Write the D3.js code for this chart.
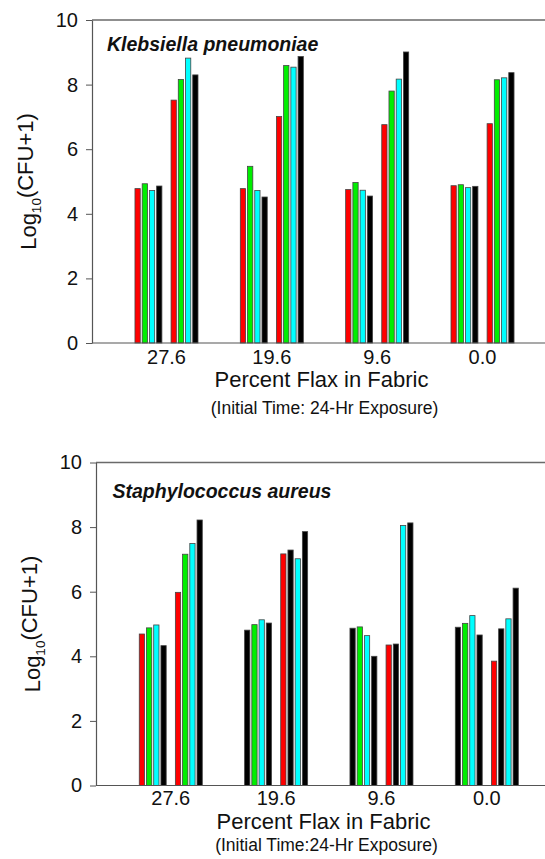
<!DOCTYPE html>
<html>
<head>
<meta charset="utf-8">
<script src="https://cdn.jsdelivr.net/npm/d3@7/dist/d3.min.js"></script>
<style>
  html, body { margin: 0; padding: 0; background: #fff; }
  svg { display: block; font-family: "Liberation Sans", Arial, sans-serif; }
</style>
</head>
<body>
<svg id="chart" width="545" height="859"></svg>
<script>
// ---- data ----
const categories = ["27.6", "19.6", "9.6", "0.0"];
const yTicks = [0, 2, 4, 6, 8, 10];

// Klebsiella pneumoniae: 8 bars per flax level (two clusters of four)
const klebValues = [
  [4.78, 4.93, 4.72, 4.86, 7.52, 8.16, 8.82, 8.30],
  [4.78, 5.47, 4.72, 4.52, 7.01, 8.59, 8.54, 8.87],
  [4.75, 4.97, 4.73, 4.55, 6.76, 7.80, 8.17, 9.01],
  [4.87, 4.90, 4.81, 4.85, 6.79, 8.15, 8.21, 8.37]
];
const klebColorKeys = [
  ["r", "g", "c", "k", "r", "g", "c", "k"],
  ["r", "g", "c", "k", "r", "g", "c", "k"],
  ["r", "g", "c", "k", "r", "g", "c", "k"],
  ["r", "g", "c", "k", "r", "g", "c", "k"]
];

// Staphylococcus aureus
const staphValues = [
  [4.69, 4.88, 4.97, 4.33, 5.98, 7.16, 7.49, 8.22],
  [4.81, 4.98, 5.13, 5.03, 7.17, 7.29, 7.02, 7.86],
  [4.87, 4.91, 4.64, 4.00, 4.35, 4.38, 8.05, 8.13],
  [4.90, 5.02, 5.26, 4.66, 3.85, 4.85, 5.16, 6.11]
];
const staphColorKeys = [
  ["r", "g", "c", "k", "r", "g", "c", "k"],
  ["k", "g", "c", "k", "r", "k", "c", "k"],
  ["k", "g", "c", "k", "r", "k", "c", "k"],
  ["k", "g", "c", "k", "r", "k", "c", "k"]
];

const titles = ["Klebsiella pneumoniae", "Staphylococcus aureus"];
const xTitle = "Percent Flax in Fabric";
const subTitles = ["(Initial Time: 24-Hr Exposure)", "(Initial Time:24-Hr Exposure)"];

// ---- styles ----
const palette = { r: "#ff0000", g: "#00ee00", c: "#00ffff", k: "#000000" };

const panels = [
  { values: klebValues, colors: klebColorKeys, title: titles[0], sub: subTitles[0],
    left: 92, top: 20, bottom: 343, gStart: 113.9, gEnd: 535.1,
    titleX: 107, titleY: 51, tickLabelY: 364, xTitleY: 387, subY: 414, yLabelX: 36 },
  { values: staphValues, colors: staphColorKeys, title: titles[1], sub: subTitles[1],
    left: 96, top: 462.5, bottom: 785.5, gStart: 118.2, gEnd: 539.4,
    titleX: 112.5, titleY: 498, tickLabelY: 805, xTitleY: 828.5, subY: 851, yLabelX: 40 }
];

const svg = d3.select("#chart");
const rightEdge = 548;

panels.forEach(p => {
  const g = svg.append("g");
  const y = d3.scaleLinear().domain([0, 10]).range([p.bottom, p.top]);
  const x = d3.scaleBand().domain(categories).range([p.gStart, p.gEnd])
    .paddingInner(0.4017).paddingOuter(0.2);
  const slots = d3.range(9);
  const xi = d3.scaleBand().domain(slots).range([0, x.bandwidth()]).paddingInner(0.27).paddingOuter(0);
  const slotOf = j => (j < 4 ? j : j + 1);

  // frame top line
  g.append("line").attr("x1", p.left).attr("x2", rightEdge)
    .attr("y1", p.top).attr("y2", p.top)
    .attr("stroke", "#6a6a6a").attr("stroke-width", 1.5);

  // bars
  categories.forEach((cat, gi) => {
    const vals = p.values[gi];
    g.selectAll(null).data(vals).enter().append("rect")
      .attr("x", (d, j) => x(cat) + xi(slotOf(j)))
      .attr("width", xi.bandwidth())
      .attr("y", d => y(d))
      .attr("height", d => y(0) - y(d))
      .attr("fill", (d, j) => palette[p.colors[gi][j]])
      .attr("stroke", "#444")
      .attr("stroke-width", 0.8);
  });

  // y axis
  const yAxis = d3.axisLeft(y).tickValues(yTicks).tickFormat(d3.format("d"))
    .tickSize(6).tickPadding(8).tickSizeOuter(0);
  const ya = g.append("g").attr("transform", `translate(${p.left},0)`).call(yAxis);
  ya.select(".domain").attr("stroke", "#555").attr("stroke-width", 1.2);
  ya.selectAll(".tick line").attr("stroke", "#555").attr("stroke-width", 1);
  ya.selectAll(".tick text").attr("font-size", 20).attr("fill", "#111")
    .attr("font-family", "'Liberation Sans', Arial, sans-serif");

  // x axis
  const xAxis = d3.axisBottom(x).tickSize(0).tickPadding(0);
  const xa = g.append("g").attr("transform", `translate(0,${p.bottom})`).call(xAxis);
  xa.select(".domain").remove();
  xa.selectAll(".tick text").attr("font-size", 20).attr("fill", "#111")
    .attr("dy", null).attr("y", p.tickLabelY - p.bottom)
    .attr("font-family", "'Liberation Sans', Arial, sans-serif");
  g.append("line").attr("x1", p.left).attr("x2", rightEdge)
    .attr("y1", p.bottom).attr("y2", p.bottom)
    .attr("stroke", "#555").attr("stroke-width", 1.2);

  // panel title
  g.append("text").attr("x", p.titleX).attr("y", p.titleY)
    .attr("font-size", 19.5).attr("font-weight", "bold").attr("font-style", "italic")
    .attr("fill", "#111").text(p.title);

  // x title + subtitle
  const cx = (p.left + 545) / 2 + 3;
  g.append("text").attr("x", cx).attr("y", p.xTitleY).attr("text-anchor", "middle")
    .attr("font-size", 22).attr("fill", "#111").text(xTitle);
  g.append("text").attr("x", cx + 3).attr("y", p.subY).attr("text-anchor", "middle")
    .attr("font-size", 17.5).attr("fill", "#111").text(p.sub);

  // y title
  const yl = g.append("text")
    .attr("transform", `translate(${p.yLabelX},${(p.top + p.bottom) / 2}) rotate(-90)`)
    .attr("text-anchor", "middle").attr("font-size", 22).attr("fill", "#111");
  yl.append("tspan").text("Log");
  yl.append("tspan").attr("font-size", 13.5).attr("dy", "0.35em").text("10");
  yl.append("tspan").attr("dy", "-0.35em").text("(CFU+1)");
});
</script>
</body>
</html>
